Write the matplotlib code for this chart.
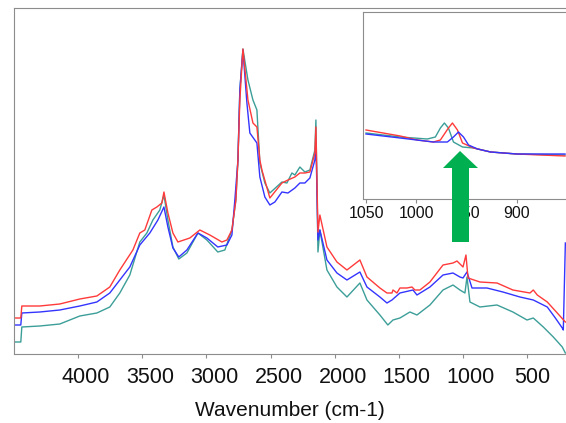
import matplotlib
matplotlib.use("Agg")
import matplotlib.pyplot as plt
from matplotlib.patches import Polygon
from matplotlib.transforms import ScaledTranslation

plt.rcParams['font.family'] = ['Liberation Sans', 'DejaVu Sans']

# espectros completos (absorbância, u.a.)
onda_vermelho = [4500, 4447, 4439, 4299, 4143, 3987, 3854, 3753, 3675, 3573,
                 3519, 3480, 3425, 3386, 3347, 3331, 3300, 3261, 3222, 3129,
                 3051, 2973, 2879, 2840, 2801, 2770, 2754, 2739, 2715, 2676,
                 2637, 2606, 2583, 2567, 2505, 2411, 2364, 2310, 2271, 2232,
                 2193, 2154, 2146, 2130, 2115, 2060, 1982, 1904, 1803, 1748,
                 1647, 1592, 1553, 1545, 1514, 1491, 1436, 1397, 1374, 1335,
                 1257, 1155, 1077, 1046, 999, 976, 960, 867, 734, 610,
                 477, 451, 420, 342, 264, 201]
abs_vermelho = [36, 36, 48, 48, 50, 55, 58, 67, 84, 104,
                121, 124, 144, 147, 151, 162, 141, 121, 112, 116,
                124, 119, 112, 114, 124, 154, 194, 254, 305, 254,
                231, 227, 194, 184, 156, 171, 174, 177, 181, 181,
                182, 201, 227, 122, 139, 107, 92, 84, 94, 77,
                66, 61, 61, 64, 61, 66, 66, 67, 64, 64,
                72, 89, 91, 93, 87, 99, 76, 72, 71, 64,
                61, 64, 59, 52, 41, 32]

onda_verde = [4500, 4447, 4439, 4299, 4143, 3987, 3854, 3753, 3675, 3597,
              3519, 3464, 3417, 3363, 3331, 3300, 3261, 3215, 3152, 3066,
              2996, 2911, 2856, 2801, 2770, 2754, 2739, 2715, 2676, 2637,
              2606, 2583, 2544, 2505, 2411, 2372, 2333, 2310, 2271, 2232,
              2193, 2154, 2146, 2130, 2115, 2060, 1982, 1904, 1803, 1748,
              1647, 1585, 1545, 1491, 1413, 1358, 1257, 1155, 1077, 1023,
              984, 968, 945, 867, 734, 610, 500, 451, 373, 295,
              225, 201]
abs_verde = [12, 12, 27, 28, 30, 38, 41, 47, 61, 79,
             112, 121, 134, 144, 159, 134, 107, 95, 101, 121,
             114, 102, 104, 124, 154, 194, 264, 305, 274, 254,
             244, 191, 171, 161, 172, 171, 181, 179, 187, 182,
             184, 204, 234, 102, 124, 84, 67, 57, 71, 54,
             39, 29, 34, 36, 42, 39, 49, 64, 69, 64,
             61, 77, 52, 47, 49, 42, 34, 36, 27, 17,
             7, 1]

onda_azul = [4500, 4447, 4439, 4299, 4143, 3987, 3854, 3753, 3675, 3597,
             3519, 3441, 3378, 3331, 3300, 3261, 3215, 3152, 3066, 2996,
             2911, 2840, 2801, 2778, 2754, 2739, 2715, 2684, 2661, 2606,
             2583, 2544, 2505, 2466, 2411, 2364, 2310, 2271, 2232, 2193,
             2154, 2146, 2130, 2115, 2060, 1982, 1904, 1803, 1748, 1647,
             1592, 1553, 1491, 1389, 1358, 1257, 1155, 1077, 1023, 999,
             968, 929, 812, 688, 555, 451, 342, 279, 225, 217,
             201]
abs_azul = [29, 29, 41, 42, 44, 48, 52, 61, 74, 87,
            109, 121, 134, 147, 127, 106, 97, 104, 121, 116,
            107, 109, 119, 154, 194, 264, 304, 251, 221, 211,
            177, 157, 149, 152, 162, 161, 166, 171, 171, 176,
            194, 212, 114, 124, 94, 81, 74, 82, 67, 57,
            51, 54, 61, 64, 59, 67, 79, 81, 77, 76,
            82, 66, 66, 62, 57, 54, 47, 36, 26, 24,
            111]

# detalhe (zoom 1050-850 cm-1)
zoom_onda_vermelho = [1050, 1016, 999, 983, 976, 968, 964, 959, 954, 943, 926, 900, 852]
zoom_abs_vermelho = [69, 63, 59, 57, 59, 71, 76, 69, 56, 51, 47, 45, 43]
zoom_onda_verde = [1050, 1016, 989, 981, 976, 972, 968, 963, 954, 943, 926, 900, 852]
zoom_abs_verde = [66, 62, 60, 62, 71, 76, 71, 57, 52, 51, 47, 45, 44]
zoom_onda_azul = [1050, 1016, 983, 969, 963, 958, 953, 948, 939, 926, 900, 852]
zoom_abs_azul = [65, 61, 57, 57, 62, 67, 62, 54, 50, 47, 45, 45]

ticks_principal = [4000, 3500, 3000, 2500, 2000, 1500, 1000, 500]
ticks_zoom = [1050, 1000, 950, 900]

COR_VERMELHO = '#ff3a3a'
COR_AZUL = '#3434ff'
COR_VERDE = '#3c9e98'
COR_EIXO = '#8c8c8c'

W, H = 566, 423
fig = plt.figure(figsize=(W / 100, H / 100), dpi=100)

# ---- gráfico principal ----
ax = fig.add_axes([14 / W, 1 - 354 / H, (W - 14) / W, 346 / H])
ax.plot(onda_verde, abs_verde, color=COR_VERDE, linewidth=1.0)
ax.plot(onda_azul, abs_azul, color=COR_AZUL, linewidth=1.0)
ax.plot(onda_vermelho, abs_vermelho, color=COR_VERMELHO, linewidth=1.0)
ax.set_xlim(4500, 196)
ax.set_ylim(0, 346)
ax.set_xticks(ticks_principal)
ax.set_yticks([])
ax.tick_params(axis='x', length=3, color=COR_EIXO, labelsize=15.5, pad=6, labelcolor='#111111')
for lado in ['left', 'bottom', 'top']:
    ax.spines[lado].set_color(COR_EIXO)
ax.spines['right'].set_visible(False)
ax.set_xlabel('Wavenumber (cm-1)', fontsize=15, labelpad=10, color='#111111')

# rótulos do eixo x ficam um pouco deslocados à direita no original
for lbl, t in zip(ax.get_xticklabels(), ticks_principal):
    dx = 8 if t >= 1000 else 5
    lbl.set_transform(lbl.get_transform() + ScaledTranslation(dx / 100, 0, fig.dpi_scale_trans))

# ---- detalhe ----
axz = fig.add_axes([363 / W, 1 - 199 / H, (W - 363) / W, 187 / H])
axz.plot(zoom_onda_verde, zoom_abs_verde, color=COR_VERDE, linewidth=1.0)
axz.plot(zoom_onda_vermelho, zoom_abs_vermelho, color=COR_VERMELHO, linewidth=1.0)
axz.plot(zoom_onda_azul, zoom_abs_azul, color=COR_AZUL, linewidth=1.0)
axz.set_xlim(1053, 851)
axz.set_ylim(0, 187)
axz.set_xticks(ticks_zoom)
axz.set_yticks([])
axz.tick_params(axis='x', length=3, color=COR_EIXO, labelsize=11.5, pad=2, labelcolor='#111111')
for lado in ['left', 'bottom', 'top']:
    axz.spines[lado].set_color(COR_EIXO)
axz.spines['right'].set_visible(False)

# ---- seta verde ----
pts = [(452, 242), (452, 168), (443, 168), (460, 151), (478, 168), (469, 168), (469, 242)]
seta = Polygon([(x / W, 1 - y / H) for x, y in pts], closed=True,
               transform=fig.transFigure, facecolor='#00b050', edgecolor='none', zorder=10)
fig.add_artist(seta)

fig.savefig('out.png', dpi=100)
